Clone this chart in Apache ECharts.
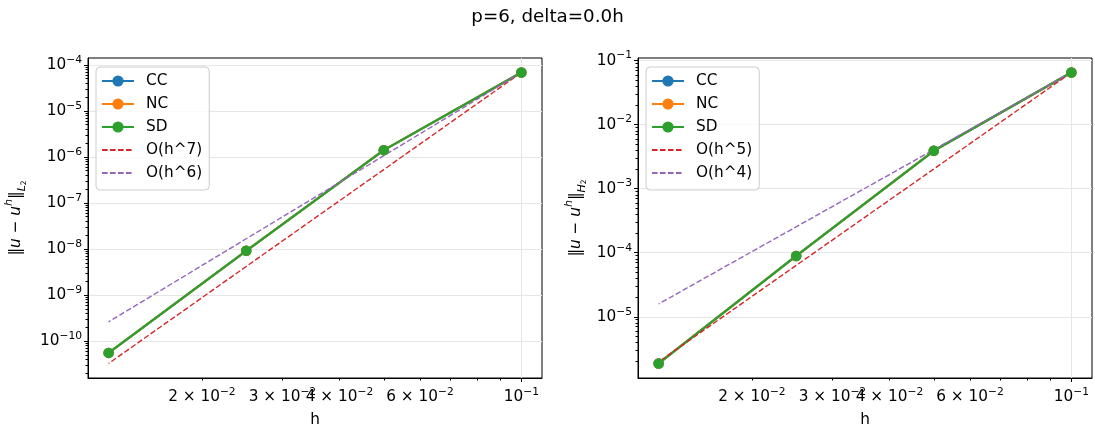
<!DOCTYPE html>
<html>
<head>
<meta charset="utf-8">
<script src="https://cdn.jsdelivr.net/npm/echarts@6/dist/echarts.min.js"></script>
<style>
  html, body { margin: 0; padding: 0; background: #fff; }
  #chart { width: 1095px; height: 430px; }
</style>
</head>
<body>
<div id="chart"></div>
<script>
// Mesh sizes used in the convergence study
const meshSizes = [0.1, 0.05, 0.025, 0.0125];

// L2-norm errors per scheme
const l2CC = [6.8e-5, 1.4e-6, 9.1e-9, 5.5e-11];
const l2NC = [6.8e-5, 1.4e-6, 9.1e-9, 5.5e-11];
const l2SD = [6.8e-5, 1.4e-6, 9.1e-9, 5.5e-11];
// Reference slopes for the L2 panel
const l2RefH7 = [6.8e-5, 5.3e-7, 4.15e-9, 3.24e-11];
const l2RefH6 = [6.8e-5, 1.06e-6, 1.66e-8, 2.6e-10];

// H2-norm errors per scheme
const h2CC = [6.5e-2, 3.9e-3, 8.9e-5, 1.87e-6];
const h2NC = [6.5e-2, 3.9e-3, 8.9e-5, 1.87e-6];
const h2SD = [6.5e-2, 3.9e-3, 8.9e-5, 1.87e-6];
// Reference slopes for the H2 panel
const h2RefH5 = [6.5e-2, 2.03e-3, 6.35e-5, 1.98e-6];
const h2RefH4 = [6.5e-2, 4.06e-3, 2.54e-4, 1.59e-5];

// Labelled and unlabelled tick positions on the h axis
const xTickValues = [0.02, 0.03, 0.04, 0.06, 0.1];
const xMinorValues = [0.02, 0.03, 0.04, 0.05, 0.06, 0.07, 0.08, 0.09];

const FONT = 'DejaVu Sans';
const FS = 15.3;
const lg = Math.log10;
const C = { CC: '#1f77b4', NC: '#ff7f0e', SD: '#2ca02c', r1: '#d62728', r2: '#9467bd' };

// Log-scale tick text: "10^-4" or "2 × 10^-2" with a raised exponent
function logLabel(v) {
  const e = Math.floor(v + 1e-9);
  const m = Math.round(Math.pow(10, v - e));
  return '{b|' + (m === 1 ? '' : m + ' \u00D7 ') + '10}{e|' + String(e).replace('-', '\u2212') + '}';
}
const tickRich = {
  b: { fontSize: FS, fontFamily: FONT, color: '#000', lineHeight: 21 },
  e: { fontSize: 10.7, fontFamily: FONT, color: '#000', lineHeight: 12, verticalAlign: 'top' }
};

const pairs = ys => meshSizes.map((h, i) => [lg(h), lg(ys[i])]);

// Data range in log space with 5% padding on each side
function padded(values) {
  const l = values.map(lg);
  const lo = Math.min(...l), hi = Math.max(...l);
  const p = (hi - lo) * 0.05;
  return [lo - p, hi + p];
}

const xExt = padded(meshSizes);
const yExtL = padded([].concat(l2CC, l2NC, l2SD, l2RefH7, l2RefH6));
const yExtR = padded([].concat(h2CC, h2NC, h2SD, h2RefH5, h2RefH4));

function decades(ext) {
  const out = [];
  for (let e = Math.ceil(ext[0]); e <= Math.floor(ext[1]); e++) out.push(e);
  return out;
}
function minorDecades(ext) {
  const out = [];
  for (let e = Math.floor(ext[0]); e <= Math.ceil(ext[1]); e++) {
    for (let k = 2; k <= 9; k++) {
      const v = e + lg(k);
      if (v >= ext[0] && v <= ext[1]) out.push(v);
    }
  }
  return out;
}

const tickLine = { color: '#000', width: 1 };
const gridLine = { color: '#e6e6e6', width: 1 };

function xAxes(g) {
  return [
    {
      type: 'value', gridIndex: g, position: 'bottom', min: xExt[0], max: xExt[1],
      axisLine: { show: true, lineStyle: tickLine },
      axisTick: { show: true, length: 4, lineStyle: tickLine, customValues: [lg(0.1)] },
      axisLabel: { customValues: xTickValues.map(lg), formatter: logLabel, margin: 9,
        hideOverlap: false, rich: tickRich },
      splitLine: { show: true, lineStyle: gridLine },
      name: 'h', nameLocation: 'middle', nameGap: 35,
      nameTextStyle: { color: '#000', fontSize: FS, fontFamily: FONT }
    },
    {
      type: 'value', gridIndex: g, position: 'bottom', min: xExt[0], max: xExt[1],
      axisLine: { show: false },
      axisTick: { show: true, length: 2.5, lineStyle: tickLine, customValues: xMinorValues.map(lg) },
      axisLabel: { show: false }, splitLine: { show: false }
    }
  ];
}

function normName(space) {
  return '{n|\u2016}{i|u}{n| \u2212 }{i|u}{s|h}{n|\u2016}{b|' + space + '}{t|2}';
}
const nameRich = {
  n: { fontSize: FS, fontFamily: FONT, color: '#000', lineHeight: 24 },
  i: { fontSize: FS, fontFamily: FONT, fontStyle: 'italic', color: '#000', lineHeight: 24 },
  s: { fontSize: 11, fontFamily: FONT, fontStyle: 'italic', color: '#000', lineHeight: 11, verticalAlign: 'top' },
  b: { fontSize: 11, fontFamily: FONT, fontStyle: 'italic', color: '#000', lineHeight: 11, verticalAlign: 'bottom' },
  t: { fontSize: 7.5, fontFamily: FONT, color: '#000', lineHeight: 19, verticalAlign: 'bottom' }
};

function yAxes(g, ext, space, gap) {
  return [
    {
      type: 'value', gridIndex: g, position: 'left', min: ext[0], max: ext[1],
      axisLine: { show: true, lineStyle: tickLine },
      axisTick: { show: true, length: 4, lineStyle: tickLine, customValues: decades(ext) },
      axisLabel: { customValues: decades(ext), formatter: logLabel, margin: 6, rich: tickRich },
      splitLine: { show: true, lineStyle: gridLine },
      name: normName(space), nameLocation: 'middle', nameRotate: 90, nameGap: gap,
      nameTextStyle: { rich: nameRich }
    },
    {
      type: 'value', gridIndex: g, position: 'left', min: ext[0], max: ext[1],
      axisLine: { show: false },
      axisTick: { show: true, length: 2.5, lineStyle: tickLine, customValues: minorDecades(ext) },
      axisLabel: { show: false }, splitLine: { show: false }
    }
  ];
}

function schemeSeries(name, ys, g) {
  return {
    type: 'line', name, xAxisIndex: g * 2, yAxisIndex: g * 2, data: pairs(ys),
    color: C[name], lineStyle: { width: 2.2, color: C[name] },
    symbol: 'circle', symbolSize: 10.5, showSymbol: true,
    itemStyle: { color: C[name] }, emphasis: { disabled: true }, silent: true
  };
}
function refSeries(name, ys, g, color) {
  return {
    type: 'line', name, xAxisIndex: g * 2, yAxisIndex: g * 2, data: pairs(ys),
    color, lineStyle: { width: 1.4, color, type: [5.6, 2.4] },
    symbol: 'none', showSymbol: false, emphasis: { disabled: true }, silent: true
  };
}

function legendFor(left, names) {
  return {
    data: names.map((n, i) => (i < 3 ? n : { name: n, itemStyle: { opacity: 0 } })),
    orient: 'vertical', left, top: 67,
    itemWidth: 32, itemHeight: 14, itemGap: 5, padding: [5, 7, 8, 5],
    backgroundColor: 'rgba(255,255,255,0.8)', borderColor: '#cccccc', borderWidth: 1, borderRadius: 4,
    textStyle: { color: '#000', fontSize: FS, fontFamily: FONT, padding: [0, 0, 0, 7], lineHeight: 18 },
    selectedMode: false
  };
}

const chart = echarts.init(document.getElementById('chart'), null, { renderer: 'canvas' });
chart.setOption({
  animation: false,
  backgroundColor: '#fff',
  title: {
    text: 'p=6, delta=0.0h', left: 'center', top: 3,
    textStyle: { color: '#000', fontSize: 18.3, fontWeight: 'normal', fontFamily: FONT }
  },
  grid: [
    { left: 88, top: 58, width: 454, height: 320, show: true, borderColor: '#000', borderWidth: 1, containLabel: false, outerBoundsMode: 'none' },
    { left: 638, top: 58, width: 454, height: 320, show: true, borderColor: '#000', borderWidth: 1, containLabel: false, outerBoundsMode: 'none' }
  ],
  xAxis: [].concat(xAxes(0), xAxes(1)),
  yAxis: [].concat(yAxes(0, yExtL, 'L', 60), yAxes(1, yExtR, 'H', 50)),
  legend: [
    legendFor(96, ['CC', 'NC', 'SD', 'O(h^7)', 'O(h^6)']),
    legendFor(646, ['CC', 'NC', 'SD', 'O(h^5)', 'O(h^4)'])
  ],
  series: [
    schemeSeries('CC', l2CC, 0),
    schemeSeries('NC', l2NC, 0),
    schemeSeries('SD', l2SD, 0),
    refSeries('O(h^7)', l2RefH7, 0, C.r1),
    refSeries('O(h^6)', l2RefH6, 0, C.r2),
    schemeSeries('CC', h2CC, 1),
    schemeSeries('NC', h2NC, 1),
    schemeSeries('SD', h2SD, 1),
    refSeries('O(h^5)', h2RefH5, 1, C.r1),
    refSeries('O(h^4)', h2RefH4, 1, C.r2)
  ]
});
</script>
</body>
</html>
